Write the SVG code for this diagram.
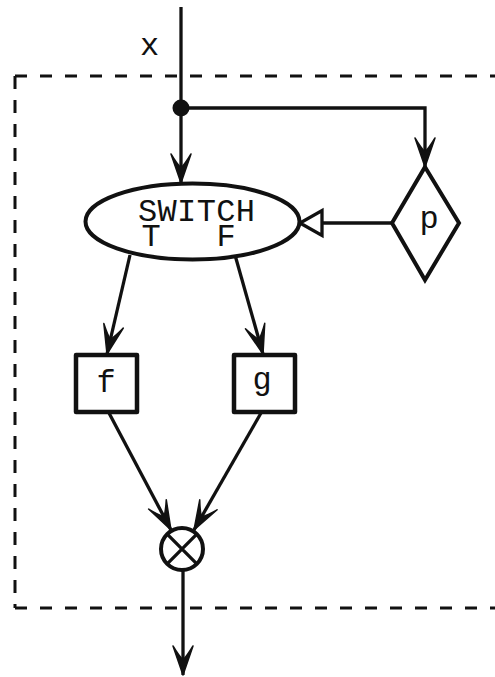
<svg xmlns="http://www.w3.org/2000/svg" width="495" height="677" viewBox="0 0 495 677">
  <defs>
    <style>
      .ln { fill: none; stroke: #111; stroke-width: 3.3; }
      .shape { fill: #fff; stroke: #111; stroke-width: 4; }
      .box { fill: #fff; stroke: #111; stroke-width: 4.5; stroke-linejoin: round; }
      .dash { fill: none; stroke: #111; stroke-width: 3; }
      .lbl { font-family: "Liberation Mono", "Courier New", monospace; font-size: 32px; fill: #111; }
    </style>
    <marker id="barb" markerUnits="userSpaceOnUse" markerWidth="40" markerHeight="40" refX="0" refY="0" orient="auto" overflow="visible">
      <path d="M0,0 L-29,-10 Q-19,-4 -15,0 Q-19,4 -29,10 Z" fill="#111" stroke="#111" stroke-width="1.5" stroke-linejoin="round"/>
    </marker>
    <marker id="hollow" markerUnits="userSpaceOnUse" markerWidth="40" markerHeight="40" refX="0" refY="0" orient="auto" overflow="visible">
      <path d="M0,0 L-22,-12.5 L-22,12.5 Z" fill="#fff" stroke="#111" stroke-width="3.3" stroke-linejoin="miter"/>
    </marker>
  </defs>
  <rect width="495" height="677" fill="#fff"/>

  <g id="boundary">
    <path class="dash" d="M15,76 H495" stroke-dasharray="12 13"/>
    <path class="dash" d="M15,76 V608" stroke-dasharray="13 11"/>
    <path class="dash" d="M15,608 H495" stroke-dasharray="12 13"/>
  </g>

  <g id="connectors">
    <path class="ln" d="M181,7 V183" marker-end="url(#barb)"/>
    <text class="lbl" x="149.5" y="55" text-anchor="middle">x</text>
    <path class="ln" d="M181,108 H425 V167" marker-end="url(#barb)"/>
    <path class="ln" d="M392,223 H300" marker-end="url(#hollow)"/>
    <path class="ln" d="M130,255 L107,354" marker-end="url(#barb)"/>
    <path class="ln" d="M235,255 L263,354" marker-end="url(#barb)"/>
    <path class="ln" d="M109,413 L171,530" marker-end="url(#barb)"/>
    <path class="ln" d="M261,413 L194,530" marker-end="url(#barb)"/>
    <path class="ln" d="M183,570 V675" marker-end="url(#barb)"/>
  </g>

  <g id="junction">
    <circle cx="181" cy="108" r="8.5" fill="#111"/>
  </g>

  <g id="switch">
    <ellipse class="shape" cx="192.5" cy="221.5" rx="107" ry="38"/>
    <text class="lbl" x="138" y="221" textLength="117" lengthAdjust="spacing">SWITCH</text>
    <text class="lbl" x="151" y="246" text-anchor="middle">T</text>
    <text class="lbl" x="226" y="246" text-anchor="middle">F</text>
  </g>

  <g id="predicate">
    <path class="shape" d="M425,167 L459,223 L425,280 L392,223 Z" stroke-linejoin="miter"/>
    <text class="lbl" x="429" y="228" text-anchor="middle">p</text>
  </g>

  <g id="f">
    <rect class="box" x="76" y="355" width="61" height="57"/>
    <text class="lbl" x="106" y="392" text-anchor="middle">f</text>
  </g>

  <g id="g">
    <rect class="box" x="234" y="355" width="61" height="57"/>
    <text class="lbl" x="262" y="389" text-anchor="middle">g</text>
  </g>

  <g id="merge">
    <circle class="shape" cx="182" cy="549" r="21" stroke-width="3.3"/>
    <path class="ln" d="M167.2,534.2 L196.8,563.8 M196.8,534.2 L167.2,563.8"/>
  </g>
</svg>
